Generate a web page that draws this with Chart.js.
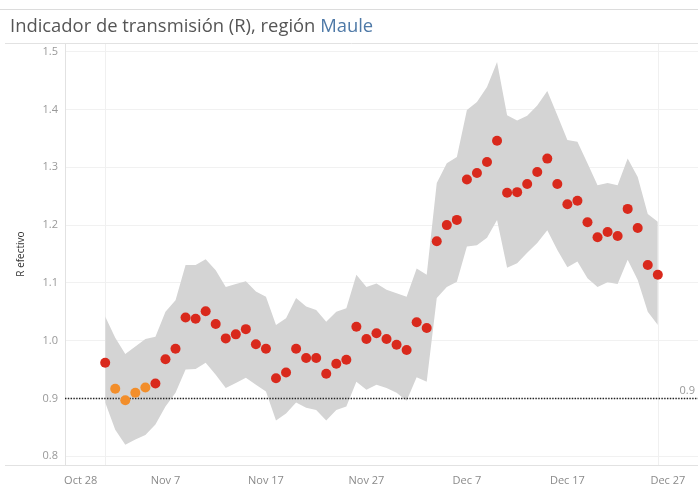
<!DOCTYPE html>
<html><head><meta charset="utf-8">
<script src="https://cdn.jsdelivr.net/npm/chart.js@4.4.1/dist/chart.umd.min.js"></script>
<style>
html,body{margin:0;padding:0;background:#fff;}
#wrap{position:relative;width:698px;height:489px;overflow:hidden;}
#title{position:absolute;left:0;top:9px;width:698px;border-top:1px solid #dcdcdc;padding-left:10px;box-sizing:border-box;font-family:'Open Sans',sans-serif;font-size:18.4px;color:#555;line-height:29px;white-space:nowrap;}
#title .reg{color:#4e79a7;}
canvas{position:absolute;left:0;top:0;}
</style></head>
<body>
<div id="wrap">
<canvas id="c" width="698" height="489"></canvas>
<div id="title">Indicador de transmisión (R), región <span class="reg">Maule</span></div>
</div>
<script>
// Axis starts Oct 28, first estimate Nov 1 (one value per day)
const axisStart = Date.UTC(2020, 9, 28);
const firstDate = Date.UTC(2020, 10, 1);
const axisDays = 63;
const xTickLabels = ['Oct 28', 'Nov 7', 'Nov 17', 'Nov 27', 'Dec 7', 'Dec 17', 'Dec 27'];
const yTicks = [0.8, 0.9, 1.0, 1.1, 1.2, 1.3, 1.4, 1.5];
const threshold = 0.9;

const rValues = [0.962,0.917,0.897,0.910,0.919,0.926,0.968,0.986,1.040,1.038,
  1.051,1.029,1.004,1.011,1.020,0.994,0.986,0.935,0.945,0.986,
  0.970,0.970,0.943,0.960,0.967,1.024,1.003,1.013,1.003,0.993,
  0.984,1.032,1.022,1.172,1.200,1.209,1.279,1.290,1.309,1.346,
  1.256,1.257,1.271,1.292,1.315,1.271,1.236,1.242,1.205,1.179,
  1.188,1.181,1.228,1.195,1.131,1.114];
const rUpper = [1.042,1.005,0.977,0.990,1.003,1.007,1.050,1.070,1.131,1.131,
  1.141,1.122,1.093,1.098,1.103,1.085,1.076,1.027,1.039,1.074,
  1.059,1.053,1.033,1.050,1.056,1.114,1.093,1.099,1.088,1.082,
  1.076,1.125,1.114,1.273,1.307,1.318,1.399,1.413,1.439,1.482,
  1.390,1.381,1.389,1.407,1.432,1.390,1.347,1.344,1.307,1.269,
  1.273,1.269,1.315,1.283,1.219,1.206];
const rLower = [0.893,0.846,0.820,0.829,0.837,0.855,0.886,0.910,0.950,0.951,
  0.962,0.941,0.918,0.927,0.936,0.924,0.912,0.862,0.874,0.893,
  0.884,0.880,0.862,0.880,0.886,0.929,0.915,0.924,0.918,0.910,
  0.896,0.937,0.929,1.074,1.093,1.102,1.163,1.165,1.178,1.209,
  1.126,1.134,1.152,1.169,1.191,1.157,1.127,1.137,1.108,1.093,
  1.101,1.098,1.140,1.105,1.050,1.027];
// points shown in orange (by position in the series)
const orangeIdx = [1, 2, 3, 4];

const RED = '#d9291c', ORANGE = '#f28e2b', BAND = '#d4d4d4';
const FONT = "'Open Sans', sans-serif";

const offset0 = Math.round((firstDate - axisStart) / 864e5);
const toXY = arr => arr.map((v, i) => ({x: offset0 + i, y: v}));
const pointColors = rValues.map((v, i) => orangeIdx.includes(i) ? ORANGE : RED);

const framePlugin = {
  id: 'frame',
  beforeDatasetsDraw(chart) {
    const {ctx, chartArea, scales} = chart;
    ctx.save();
    ctx.strokeStyle = '#f0f0f0';
    ctx.lineWidth = 1;
    [offset0, offset0 + rValues.length - 1].forEach(d => {
      const x = Math.round(scales.x.getPixelForValue(d)) + 0.5;
      ctx.beginPath(); ctx.moveTo(x, chartArea.top); ctx.lineTo(x, chartArea.bottom); ctx.stroke();
    });
    ctx.restore();
  },
  afterDraw(chart) {
    const {ctx, chartArea, scales} = chart;
    ctx.save();
    ctx.strokeStyle = '#e2e2e2';
    ctx.lineWidth = 1;
    [chartArea.top, chartArea.bottom].forEach(y => {
      const yy = Math.round(y) + 0.5;
      ctx.beginPath(); ctx.moveTo(5, yy); ctx.lineTo(698, yy); ctx.stroke();
    });
    ctx.fillStyle = '#999';
    ctx.font = "11px " + FONT;
    ctx.textAlign = 'right';
    ctx.textBaseline = 'bottom';
    ctx.fillText(threshold.toFixed(1), 695, scales.y.getPixelForValue(threshold) - 2);
    ctx.restore();
  }
};

new Chart(document.getElementById('c'), {
  type: 'line',
  data: {
    datasets: [
      {label: 'upper', data: toXY(rUpper), fill: '+1', backgroundColor: BAND, borderWidth: 0, borderColor: BAND, pointRadius: 0, tension: 0, order: 3},
      {label: 'lower', data: toXY(rLower), fill: false, borderWidth: 0, borderColor: BAND, pointRadius: 0, tension: 0, order: 3},
      {label: 'umbral', data: [{x: 0, y: threshold}, {x: axisDays, y: threshold}], borderColor: '#222', borderWidth: 1.6, borderDash: [1.4, 1.4], pointRadius: 0, fill: false, order: 2},
      {label: 'R', data: toXY(rValues), showLine: false, pointRadius: 5, pointHoverRadius: 5, pointBorderWidth: 0, pointBackgroundColor: pointColors, pointBorderColor: pointColors, order: 1}
    ]
  },
  options: {
    responsive: false,
    animation: false,
    layout: {autoPadding: false, padding: {top: 43, left: 0, right: 0, bottom: 0}},
    plugins: {legend: {display: false}, tooltip: {enabled: false}, title: {display: false}},
    scales: {
      x: {
        type: 'linear', min: 0, max: axisDays,
        afterFit: s => { s.height = 24; s.paddingLeft = 0; s.paddingRight = 0; },
        grid: {display: false, drawTicks: false},
        border: {display: true, color: '#e2e2e2'},
        ticks: {
          stepSize: 10, includeBounds: false, autoSkip: false, maxRotation: 0,
          padding: 9, color: '#8a8a8a', font: {size: 11, family: FONT},
          callback: v => {
            const lab = xTickLabels[v / 10];
            return v === 0 ? '\u00a0'.repeat(11) + lab : lab;
          }
        }
      },
      y: {
        min: 0.785, max: 1.515,
        afterFit: s => { s.width = 65; s.paddingTop = 0; s.paddingBottom = 0; },
        afterBuildTicks: s => { s.ticks = yTicks.map(v => ({value: v})); },
        grid: {color: '#f1f1f1', drawTicks: false},
        border: {display: true, color: '#e2e2e2'},
        ticks: {padding: 7, color: '#999', font: {size: 11, family: FONT}, callback: v => Number(v).toFixed(1)},
        title: {display: true, text: 'R efectivo', color: '#333', font: {size: 10, family: FONT}, padding: {top: 15, bottom: 0}}
      }
    }
  },
  plugins: [framePlugin]
});
</script>
</body></html>
